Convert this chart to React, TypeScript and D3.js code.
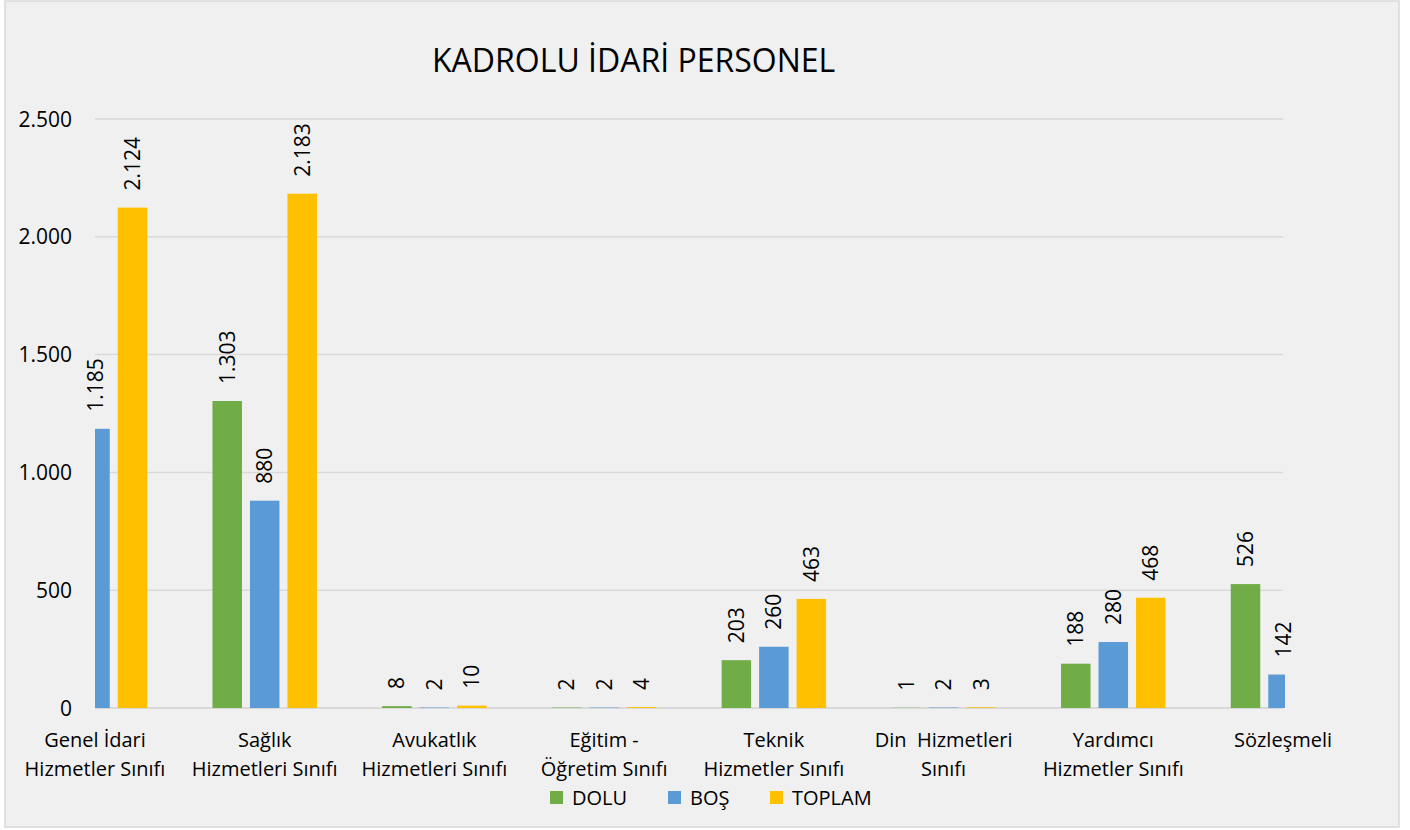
import React from "react";
import * as d3 from "d3";

const categories: string[][] = [
  ["Genel İdari", "Hizmetler Sınıfı"],
  ["Sağlık", "Hizmetleri Sınıfı"],
  ["Avukatlık", "Hizmetleri Sınıfı"],
  ["Eğitim -", "Öğretim Sınıfı"],
  ["Teknik", "Hizmetler Sınıfı"],
  ["Din  Hizmetleri", "Sınıfı"],
  ["Yardımcı", "Hizmetler Sınıfı"],
  ["Sözleşmeli"],
];

const seriesNames = ["DOLU", "BOŞ", "TOPLAM"];
const seriesColors = ["#70AD47", "#5B9BD5", "#FFC000"];

const dolu: (number | null)[] = [null, 1303, 8, 2, 203, 1, 188, 526];
const bos: (number | null)[] = [1185, 880, 2, 2, 260, 2, 280, 142];
const toplam: (number | null)[] = [2124, 2183, 10, 4, 463, 3, 468, null];

const yTicks = [0, 500, 1000, 1500, 2000, 2500];

const W = 1410;
const H = 830;
const plotLeft = 95;
const plotRight = 1283;
const plotTop = 119;
const plotBottom = 708;
const FONT = "'Open Sans', 'Noto Sans', sans-serif";

const locale = d3.formatLocale({
  decimal: ",",
  thousands: ".",
  grouping: [3],
  currency: ["", ""],
});
const fmt = locale.format(",d");

export default function App() {
  const seriesData = [dolu, bos, toplam];
  const x = d3
    .scalePoint<number>()
    .domain(categories.map((_, i) => i))
    .range([plotLeft, plotRight]);
  const inner = d3
    .scaleBand<number>()
    .domain([0, 1, 2])
    .range([-52.25, 52.25])
    .paddingInner(0.2133)
    .paddingOuter(0);
  const y = d3.scaleLinear().domain([0, 2500]).range([plotBottom, plotTop]);

  const legendItems = [
    { sq: 550, tx: 572 },
    { sq: 668, tx: 690 },
    { sq: 770, tx: 792 },
  ];

  return (
    <svg
      width={W}
      height={H}
      style={{ position: "absolute", left: 0, top: 0, background: "#ffffff" }}
      fontFamily={FONT}
    >
      <defs>
        <clipPath id="plotClip">
          <rect x={plotLeft} y={0} width={plotRight - plotLeft + 2} height={plotBottom + 1} />
        </clipPath>
      </defs>
      <rect x={5} y={1} width={1394} height={826} fill="#F0F0F0" stroke="#D9D9D9" strokeWidth={1.5} />

      <text x={432} y={72} fontSize={32} fill="#000">
        KADROLU İDARİ PERSONEL
      </text>

      {yTicks.map((t) => (
        <g key={t}>
          <line
            x1={plotLeft}
            x2={plotRight}
            y1={y(t)}
            y2={y(t)}
            stroke="#D9D9D9"
            strokeWidth={t === 0 ? 2 : 1.5}
          />
          <text x={72} y={y(t)} dy="0.36em" textAnchor="end" fontSize={21} fill="#000">
            {fmt(t)}
          </text>
        </g>
      ))}

      <g clipPath="url(#plotClip)">
        {seriesData.map((vals, s) =>
          vals.map((v, i) =>
            v == null ? null : (
              <rect
                key={`${s}-${i}`}
                x={(x(i) as number) + (inner(s) as number)}
                y={y(v)}
                width={inner.bandwidth()}
                height={plotBottom - y(v)}
                fill={seriesColors[s]}
              />
            )
          )
        )}
      </g>

      {seriesData.map((vals, s) =>
        vals.map((v, i) => {
          if (v == null) return null;
          const cx = (x(i) as number) + (inner(s) as number) + inner.bandwidth() / 2;
          const ty = y(v) - 17;
          return (
            <text
              key={`l-${s}-${i}`}
              transform={`translate(${cx},${ty}) rotate(-90)`}
              dy="0.36em"
              textAnchor="start"
              fontSize={21}
              fill="#000"
            >
              {fmt(v)}
            </text>
          );
        })
      )}

      {categories.map((lines, i) => (
        <text
          key={`c-${i}`}
          x={x(i) as number}
          y={747}
          textAnchor="middle"
          fontSize={20}
          fill="#000"
          style={{ whiteSpace: "pre" }}
        >
          {lines.map((ln, k) => (
            <tspan key={k} x={x(i) as number} y={747 + k * 29}>
              {ln}
            </tspan>
          ))}
        </text>
      ))}

      {seriesNames.map((n, s) => (
        <g key={n}>
          <rect x={legendItems[s].sq} y={791} width={13} height={13} fill={seriesColors[s]} />
          <text x={legendItems[s].tx} y={805} fontSize={20} fill="#000">
            {n}
          </text>
        </g>
      ))}
    </svg>
  );
}
